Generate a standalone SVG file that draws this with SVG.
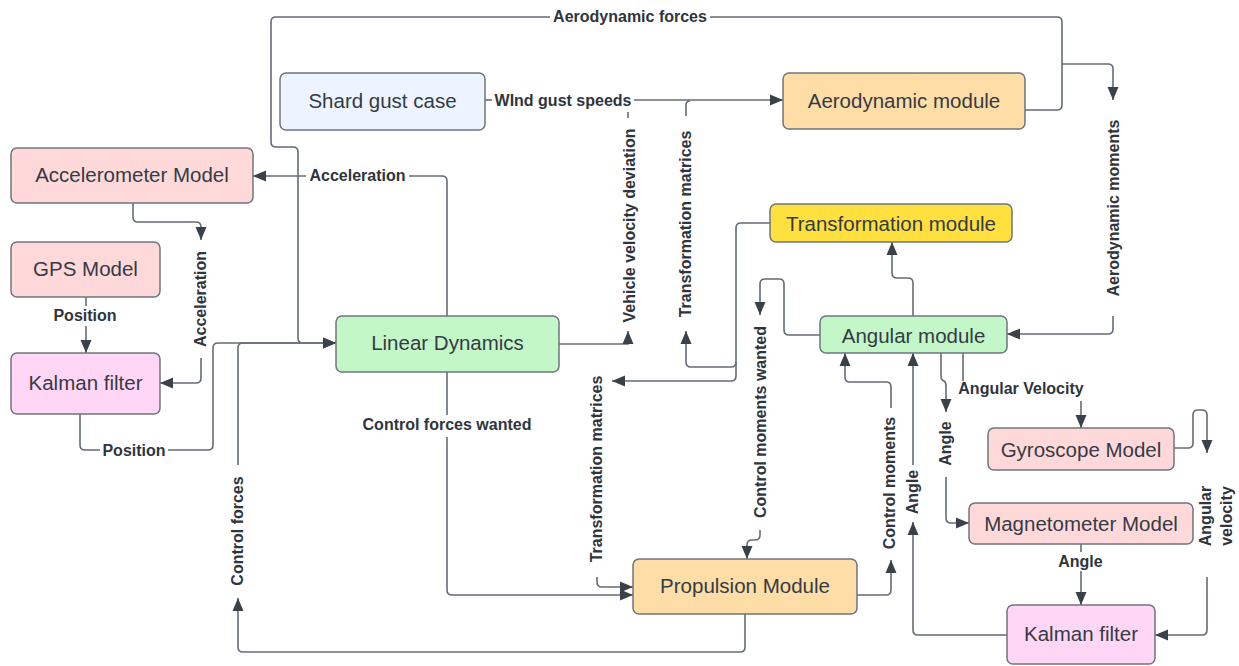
<svg xmlns="http://www.w3.org/2000/svg" width="1239" height="666" viewBox="0 0 1239 666">
<defs>
<style>
.n{stroke:#6e757e;stroke-width:1.5}
.nt{font-family:"Liberation Sans",Arial,sans-serif;font-size:20.5px;fill:#343b45;text-anchor:middle;dominant-baseline:central}
.c{fill:none;stroke:#656c75;stroke-width:1.6}
.l{font-family:"Liberation Sans",Arial,sans-serif;font-size:16px;font-weight:bold;fill:#2f353d;text-anchor:middle;dominant-baseline:central}
</style>
<marker id="a" markerUnits="userSpaceOnUse" markerWidth="14" markerHeight="12" refX="13" refY="6" orient="auto">
<path d="M0,0.5 L13,6 L0,11.5 z" fill="#3a414a"/>
</marker>
</defs>
<rect width="1239" height="666" fill="#ffffff"/>

<g id="connectors">
<!-- Aerodynamic forces -->
<path class="c" d="M1025,110 H1057 Q1062,110 1062,105 V22 Q1062,17 1057,17 H710"/>
<path class="c" d="M550,17 H276 Q271,17 271,22 V142 Q271,147 276,147 H293 Q298,147 298,152 V338 Q298,343 303,343 H336" marker-end="url(#a)"/>
<!-- Aerodynamic moments -->
<path class="c" d="M1062,64 H1108 Q1113,64 1113,69 V100" marker-end="url(#a)"/>
<path class="c" d="M1113,316 V329 Q1113,334 1108,334 H1007" marker-end="url(#a)"/>
<!-- Wind gust speeds -->
<path class="c" d="M485,100 H492"/>
<path class="c" d="M634,100 H783" marker-end="url(#a)"/>
<!-- Vehicle velocity deviation -->
<path class="c" d="M559,344 H628 V331" marker-end="url(#a)"/>
<path class="c" d="M628,112 V118"/>
<!-- Transformation matrices -->
<path class="c" d="M770,223 H741 Q736,223 736,228 V362 Q736,367 731,367 H691 Q686,367 686,362 V331" marker-end="url(#a)"/>
<path class="c" d="M736,362 V376 Q736,381 731,381 H612" marker-end="url(#a)"/>
<path class="c" d="M690,101 Q686,101 686,105 V116"/>
<path class="c" d="M597,577 V582 Q597,587 602,587 H633" marker-end="url(#a)"/>
<!-- Control forces wanted -->
<path class="c" d="M447,372 V415"/>
<path class="c" d="M447,437 V590 Q447,595 452,595 H633" marker-end="url(#a)"/>
<!-- Acceleration (top) -->
<path class="c" d="M447,316 V181 Q447,176 442,176 H409"/>
<path class="c" d="M306,176 H253" marker-end="url(#a)"/>
<!-- Acceleration (left) -->
<path class="c" d="M133,203 V217 Q133,222 138,222 H196 Q201,222 201,227 V240" marker-end="url(#a)"/>
<path class="c" d="M201,358 V378 Q201,383 196,383 H160" marker-end="url(#a)"/>
<!-- GPS position -->
<path class="c" d="M86,297 V306"/>
<path class="c" d="M86,326 V353" marker-end="url(#a)"/>
<!-- Kalman position -->
<path class="c" d="M80,414 V445 Q80,450 85,450 H100"/>
<path class="c" d="M168,450 H208 Q213,450 213,445 V348 Q213,343 218,343 H336" marker-end="url(#a)"/>
<!-- Control forces -->
<path class="c" d="M745,614 V647 Q745,652 740,652 H243 Q238,652 238,647 V598" marker-end="url(#a)"/>
<path class="c" d="M238,465 V348 Q238,343 243,343 H300"/>
<!-- Control moments wanted -->
<path class="c" d="M820,335 H789 Q784,335 784,330 V284 Q784,279 779,279 H765 Q760,279 760,284 V315" marker-end="url(#a)"/>
<path class="c" d="M760,530 V535 Q760,540 755,540 H752 Q747,540 747,545 V559" marker-end="url(#a)"/>
<!-- Control moments -->
<path class="c" d="M857,595 H886 Q891,595 891,590 V560" marker-end="url(#a)"/>
<path class="c" d="M891,408 V387 Q891,382 886,382 H850 Q845,382 845,377 V353" marker-end="url(#a)"/>
<!-- Angle: Kalman to Angular -->
<path class="c" d="M1007,635 H918 Q913,635 913,630 V522" marker-end="url(#a)"/>
<path class="c" d="M913,465 V353" marker-end="url(#a)"/>
<!-- Angle: Angular to Magnetometer -->
<path class="c" d="M941,353 V376 Q941,380 944,381 Q946,382 946,386 V412" marker-end="url(#a)"/>
<path class="c" d="M946,477 V518 Q946,523 951,523 H969" marker-end="url(#a)"/>
<!-- Angular Velocity -->
<path class="c" d="M963,353 V381"/>
<path class="c" d="M1081,401 V428" marker-end="url(#a)"/>
<!-- Gyro angular velocity -->
<path class="c" d="M1174,448 H1188 Q1193,448 1193,443 V415 Q1193,410 1198,410 H1202 Q1207,410 1207,415 V453" marker-end="url(#a)"/>
<path class="c" d="M1207,577 V630 Q1207,635 1202,635 H1155" marker-end="url(#a)"/>
<!-- Magnetometer angle -->
<path class="c" d="M1081,544 V552"/>
<path class="c" d="M1081,571 V605" marker-end="url(#a)"/>
<!-- Angular to Transformation -->
<path class="c" d="M913,316 V283 Q913,278 908,278 H897 Q892,278 892,273 V242" marker-end="url(#a)"/>
</g>

<g id="labels">
<text class="l" x="630" y="16">Aerodynamic forces</text>
<text class="l" x="563" y="100">WInd gust speeds</text>
<text class="l" x="357.5" y="175">Acceleration</text>
<text class="l" x="85" y="315">Position</text>
<text class="l" x="134" y="450">Position</text>
<text class="l" x="447" y="424">Control forces wanted</text>
<text class="l" x="1021" y="388">Angular Velocity</text>
<text class="l" x="1080.5" y="561">Angle</text>
<text class="l" transform="translate(629.5,225.5) rotate(-90)">Vehicle velocity deviation</text>
<text class="l" transform="translate(685,224) rotate(-90)">Transformation matrices</text>
<text class="l" transform="translate(596.5,469) rotate(-90)">Transformation matrices</text>
<text class="l" transform="translate(760,422) rotate(-90)">Control moments wanted</text>
<text class="l" transform="translate(889.5,483) rotate(-90)">Control moments</text>
<text class="l" transform="translate(912.5,492) rotate(-90)">Angle</text>
<text class="l" transform="translate(945.5,443.5) rotate(-90)">Angle</text>
<text class="l" transform="translate(1113.5,208) rotate(-90)">Aerodynamic moments</text>
<text class="l" transform="translate(200,299) rotate(-90)">Acceleration</text>
<text class="l" transform="translate(237.5,531) rotate(-90)">Control forces</text>
<text class="l" transform="translate(1205,516) rotate(-90)">Angular</text>
<text class="l" transform="translate(1226,516) rotate(-90)">velocity</text>
</g>

<g id="shard-gust-case"><rect class="n" x="280" y="73" width="205" height="57" rx="6" fill="#edf4ff"/><text class="nt" x="382.5" y="100">Shard gust case</text></g>
<g id="aerodynamic-module"><rect class="n" x="783" y="73" width="242" height="56" rx="6" fill="#ffdda6"/><text class="nt" x="904" y="100">Aerodynamic module</text></g>
<g id="accelerometer-model"><rect class="n" x="11" y="148" width="242" height="55" rx="6" fill="#ffd9d9"/><text class="nt" x="132" y="174">Accelerometer Model</text></g>
<g id="gps-model"><rect class="n" x="11" y="242" width="149" height="55" rx="6" fill="#ffd9d9"/><text class="nt" x="85.5" y="268">GPS Model</text></g>
<g id="kalman-filter-left"><rect class="n" x="11" y="353" width="149" height="61" rx="6" fill="#ffd6f6"/><text class="nt" x="85.5" y="382">Kalman filter</text></g>
<g id="linear-dynamics"><rect class="n" x="336" y="316" width="223" height="56" rx="6" fill="#c3f7c8"/><text class="nt" x="447.5" y="342">Linear Dynamics</text></g>
<g id="transformation-module"><rect class="n" x="770" y="204" width="242" height="38" rx="6" fill="#ffe03f"/><text class="nt" x="891" y="223">Transformation module</text></g>
<g id="angular-module"><rect class="n" x="820" y="316" width="187" height="37" rx="6" fill="#c3f7c8"/><text class="nt" x="913.5" y="335">Angular module</text></g>
<g id="gyroscope-model"><rect class="n" x="988" y="428" width="186" height="42" rx="6" fill="#ffd9d9"/><text class="nt" x="1081" y="449">Gyroscope Model</text></g>
<g id="magnetometer-model"><rect class="n" x="969" y="503" width="224" height="41" rx="6" fill="#ffd9d9"/><text class="nt" x="1081" y="523.5">Magnetometer Model</text></g>
<g id="kalman-filter-right"><rect class="n" x="1007" y="605" width="148" height="59" rx="6" fill="#ffd6f6"/><text class="nt" x="1081" y="633">Kalman filter</text></g>
<g id="propulsion-module"><rect class="n" x="633" y="559" width="224" height="55" rx="6" fill="#ffdda6"/><text class="nt" x="745" y="585">Propulsion Module</text></g>
</svg>
